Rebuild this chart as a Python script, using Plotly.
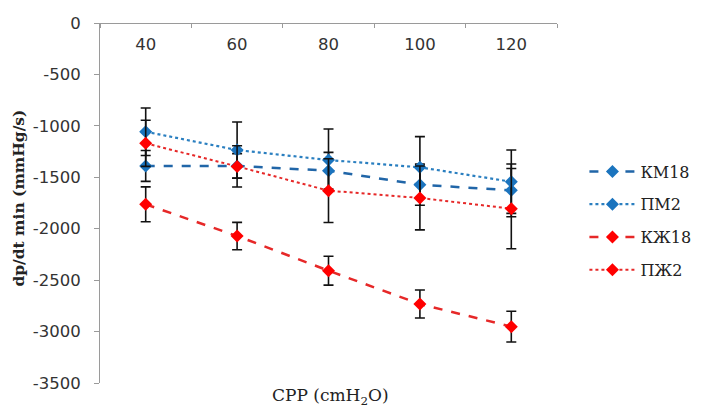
import plotly.graph_objects as go

# CPP levels (cmH2O)
cpp = ["40", "60", "80", "100", "120"]

# dp/dt min means (mmHg/s) and symmetric error half-widths
km18 = [-1390, -1390, -1436, -1572, -1627]
km18_err = [150, 120, 178, 200, 256]
pm2 = [-1057, -1235, -1332, -1403, -1543]
pm2_err = [231, 273, 302, 298, 308]
kzh18 = [-1763, -2071, -2408, -2732, -2952]
kzh18_err = [170, 133, 140, 136, 150]
pzh2 = [-1170, -1394, -1630, -1701, -1805]
pzh2_err = [224, 200, 310, 310, 390]

y_ticks = [0, -500, -1000, -1500, -2000, -2500, -3000, -3500]
y_ticktext = ["0", "-500", "-1000", "-1500", "-2000", "-2500", "-3000", "-3500"]

BLUE_M = "#1B74BE"
BLUE_L = "#2166A8"
RED_M = "#FF0000"
RED_L = "#E62828"

series = [
    ("КМ18", km18, km18_err, BLUE_L, BLUE_M, "dash", 2.5),
    ("ПМ2", pm2, pm2_err, "#2A7FC0", BLUE_M, "dot", 2.2),
    ("КЖ18", kzh18, kzh18_err, RED_L, RED_M, "dash", 2.5),
    ("ПЖ2", pzh2, pzh2_err, RED_L, RED_M, "dot", 2.0),
]

fig = go.Figure()
for name, vals, errs, lc, mc, dash, lw in series:
    fig.add_trace(go.Scatter(
        x=cpp, y=vals, name=name, legendgroup=name,
        mode="lines+markers",
        line=dict(color=lc, dash=dash, width=lw),
        marker=dict(symbol="diamond", size=10, color=mc),
        error_y=dict(type="data", array=errs, visible=True,
                     color="#111111", thickness=1.6, width=5),
    ))

fig.update_layout(
    width=708, height=409,
    margin=dict(l=100, r=148, t=23, b=26),
    paper_bgcolor="white", plot_bgcolor="white",
    showlegend=True,
    legend=dict(
        x=1.06, y=0.45, xanchor="left", yanchor="middle",
        font=dict(family="DejaVu Serif", size=16, color="#222222"),
        tracegroupgap=9, itemwidth=46,
        bgcolor="rgba(0,0,0,0)",
    ),
    # category axis drawn along the top edge (y = 0) with labels below the line
    xaxis=dict(
        type="category", range=[-0.5, 4.5],
        anchor="free", position=1, side="bottom",
        showline=True, linecolor="#9A9A9A", linewidth=1,
        ticks="outside", tickson="boundaries", ticklen=4, tickcolor="#9A9A9A",
        ticklabelstandoff=6,
        tickfont=dict(family="DejaVu Sans", size=16.5, color="#333333"),
        showgrid=False, zeroline=False,
    ),
    yaxis=dict(
        range=[-3500, 0], domain=[0, 1],
        tickvals=y_ticks, ticktext=y_ticktext,
        showline=True, linecolor="#9A9A9A", linewidth=1,
        ticks="outside", ticklen=5, tickcolor="#9A9A9A",
        ticklabelstandoff=10,
        tickfont=dict(family="DejaVu Sans", size=16.5, color="#333333"),
        showgrid=False, zeroline=False,
    ),
    annotations=[
        dict(text="CPP (cmH<sub>2</sub>O)", xref="paper", yref="paper",
             x=0.505, y=0, yshift=-13, xanchor="center", yanchor="middle",
             showarrow=False,
             font=dict(family="DejaVu Serif", size=17, color="#222222")),
        dict(text="<b>dp/dt min (mmHg/s)</b>", xref="paper", yref="paper",
             x=-0.178, y=0.514, xanchor="center", yanchor="middle",
             textangle=-90, showarrow=False,
             font=dict(family="DejaVu Serif", size=15.5, color="#222222")),
    ],
)

fig.write_html("out.html")
